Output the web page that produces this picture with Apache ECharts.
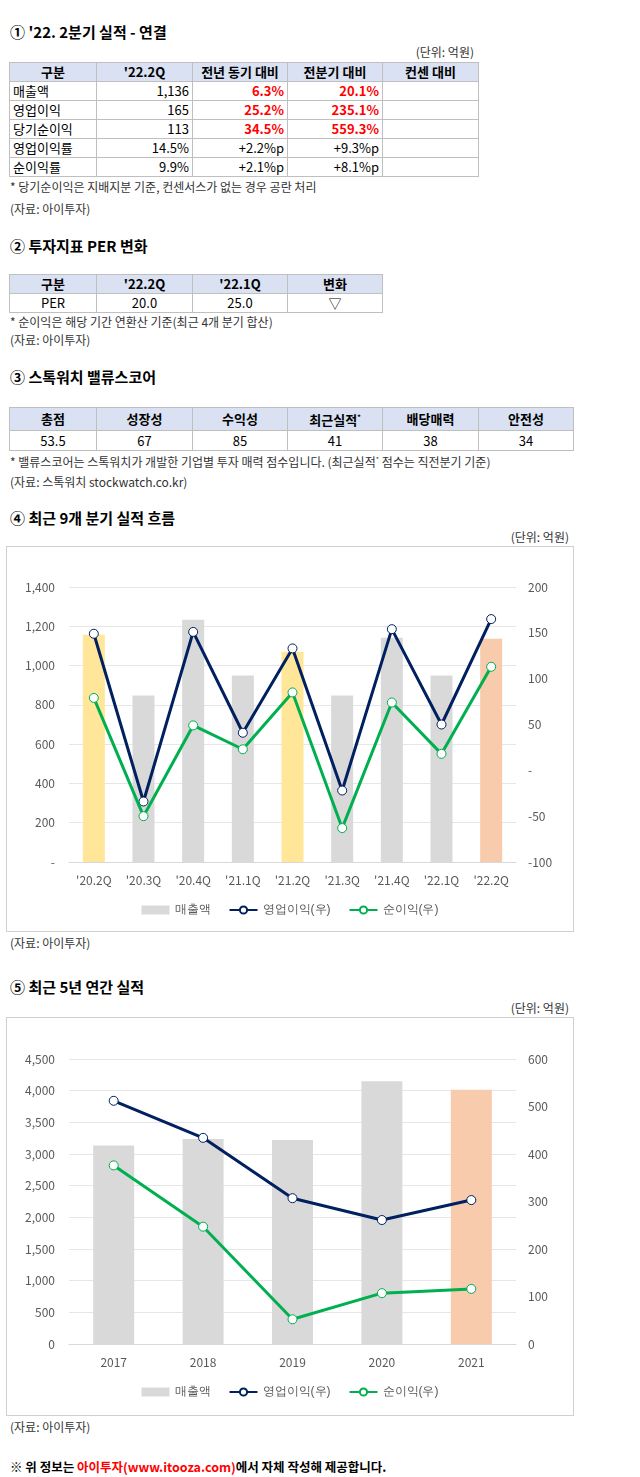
<!DOCTYPE html>
<html><head><meta charset="utf-8">
<script src="https://cdn.jsdelivr.net/npm/echarts@6/dist/echarts.min.js"></script>
<style>
body{margin:0;width:640px;height:1477px;position:relative;background:#fff;font-family:"Noto Sans CJK KR","Noto Sans",sans-serif;color:#000;}
.a{position:absolute;white-space:nowrap;}
.t{font-weight:bold;font-size:15px;left:10px;}
.s{font-size:12px;color:#333;}
table{position:absolute;border-collapse:collapse;font-size:13px;left:9px;table-layout:fixed;}
td,th{border:1px solid #bfbfbf;padding:0 3px;height:18px;line-height:18px;overflow:hidden;white-space:nowrap;}
th{background:#d9e1f2;font-weight:bold;text-align:center;}
.r{text-align:right}.c{text-align:center}.red{color:#f00;font-weight:bold;text-align:right}
.box{position:absolute;left:6px;width:568px;border:1px solid #d0d0d0;box-sizing:border-box;}
</style></head><body>
<div class="a t" style="top:21px">① '22. 2분기 실적 - 연결</div>
<div class="a s" style="top:43px;right:166px">(단위: 억원)</div>
<table id="t1" style="top:62px;width:467px"></table>
<div class="a s" style="top:178px;left:10px">* 당기순이익은 지배지분 기준, 컨센서스가 없는 경우 공란 처리</div>
<div class="a s" style="top:200px;left:10px">(자료: 아이투자)</div>

<div class="a t" style="top:235px">② 투자지표 PER 변화</div>
<table id="t2" style="top:274px;width:373px"></table>
<div class="a s" style="top:313px;left:10px">* 순이익은 해당 기간 연환산 기준(최근 4개 분기 합산)</div>
<div class="a s" style="top:331px;left:10px">(자료: 아이투자)</div>

<div class="a t" style="top:366px">③ 스톡워치 밸류스코어</div>
<table id="t3" style="top:407px;width:563px"></table>
<div class="a s" style="top:453px;left:10px">* 밸류스코어는 스톡워치가 개발한 기업별 투자 매력 점수입니다. (최근실적<sup style="font-size:7px">*</sup> 점수는 직전분기 기준)</div>
<div class="a s" style="top:473px;left:10px">(자료: 스톡워치 stockwatch.co.kr)</div>

<div class="a t" style="top:507px">④ 최근 9개 분기 실적 흐름</div>
<div class="a s" style="top:528px;right:71px">(단위: 억원)</div>
<div class="box" style="top:546px;height:386px"><div id="c1" style="width:566px;height:384px"></div></div>
<div class="a s" style="top:934px;left:10px">(자료: 아이투자)</div>

<div class="a t" style="top:976px">⑤ 최근 5년 연간 실적</div>
<div class="a s" style="top:999px;right:71px">(단위: 억원)</div>
<div class="box" style="top:1017px;height:399px"><div id="c2" style="width:566px;height:397px"></div></div>
<div class="a s" style="top:1418px;left:10px">(자료: 아이투자)</div>
<div class="a" style="top:1457px;left:10px;font-size:12.5px;font-weight:bold">※ 위 정보는 <span style="color:#f00">아이투자(www.itooza.com)</span>에서 자체 작성해 제공합니다.</div>

<script>
// Table data
const t1Head=['구분',"'22.2Q",'전년 동기 대비','전분기 대비','컨센 대비'];
const t1Rows=[['매출액','1,136','6.3%','20.1%',''],['영업이익','165','25.2%','235.1%',''],['당기순이익','113','34.5%','559.3%',''],['영업이익률','14.5%','+2.2%p','+9.3%p',''],['순이익률','9.9%','+2.1%p','+8.1%p','']];
const t2Head=['구분',"'22.2Q","'22.1Q",'변화'];
const t2Row=['PER','20.0','25.0','▽'];
const t3Head=['총점','성장성','수익성','최근실적<sup style="font-size:7px">*</sup>','배당매력','안전성'];
const t3Row=['53.5','67','85','41','38','34'];

// Chart 1 data
const qCats=["'20.2Q","'20.3Q","'20.4Q","'21.1Q","'21.2Q","'21.3Q","'21.4Q","'22.1Q","'22.2Q"];
const qSales=[1157,848,1233,950,1071,848,1142,950,1136];
const qOp=[149,-34,151,41,133,-22,154,50,165];
const qNet=[79,-50,49,23,85,-63,74,18,113];
const qHighlight=['y',null,null,null,'y',null,null,null,'p'];
// Chart 2 data
const yCats=['2017','2018','2019','2020','2021'];
const ySales=[3133,3238,3223,4148,4016];
const yOp=[512,434,307,261,303];
const yNet=[376,247,52,107,116];
const yHighlight=[null,null,null,null,'p'];

const w=[87,96,95,95,96,95];
function row(cells,tag,cls){return '<tr>'+cells.map((c,i)=>`<${tag} class="${cls?cls(i):''}" style="width:${w[i]-7}px">${c}</${tag}>`).join('')+'</tr>';}
document.getElementById('t1').innerHTML=row(t1Head,'th')+t1Rows.map((r,ri)=>row(r,'td',i=>i==0?'':(i==1?'r':(ri<3?'red':'r')))).join('');
document.getElementById('t2').innerHTML=row(t2Head,'th')+row(t2Row,'td',()=> 'c');
document.getElementById('t3').innerHTML=row(t3Head,'th').replace(/<tr>/,'<tr style="height:23px">')+row(t3Row,'td',()=> 'c').replace(/<tr>/,'<tr style="height:20px">');

const colors={y:'#ffe699',p:'#f8cbad'};
const lab={color:'#595959',fontSize:12,fontFamily:'"Noto Sans CJK KR",sans-serif'};
function mk(id,cats,sales,op,net,hl,lmin,lmax,lint,rmin,rmax,rint,dash,bw,grid,legBottom){
  const c=echarts.init(document.getElementById(id));
  const sym={symbol:'circle',symbolSize:9};
  c.setOption({animation:false,
    grid:grid,
    legend:{bottom:legBottom,itemWidth:28,itemHeight:9,itemGap:18,textStyle:{color:'#595959',fontSize:12},
      data:[{name:'매출액',icon:'rect',itemStyle:{color:'#d9d9d9'}},{name:'영업이익(우)'},{name:'순이익(우)'}]},
    xAxis:{type:'category',data:cats,axisLine:{show:true,lineStyle:{color:'#d9d9d9'}},axisTick:{show:false},axisLabel:Object.assign({margin:12,interval:0},lab)},
    yAxis:[{type:'value',min:lmin,max:lmax,interval:lint,axisLine:{show:false},axisTick:{show:false},splitLine:{lineStyle:{color:'#e6e6e6'}},
      axisLabel:Object.assign({formatter:v=>v===0&&dash?'-':v.toLocaleString('en-US'),margin:14},lab)},
      {type:'value',min:rmin,max:rmax,interval:rint,axisLine:{show:false},axisTick:{show:false},splitLine:{show:false},
      axisLabel:Object.assign({formatter:v=>v===0&&dash?'-':String(v),margin:12},lab)}],
    series:[
      {name:'매출액',type:'bar',barWidth:bw,data:sales.map((v,i)=>({value:v,itemStyle:{color:hl[i]?colors[hl[i]]:'#d9d9d9'}})),itemStyle:{color:'#d9d9d9'}},
      Object.assign({name:'영업이익(우)',type:'line',yAxisIndex:1,data:op,lineStyle:{color:'#002060',width:3},z:3},sym,{itemStyle:{color:'#fff',borderColor:'#002060',borderWidth:1}}),
      Object.assign({name:'순이익(우)',type:'line',yAxisIndex:1,data:net,lineStyle:{color:'#00b050',width:3},z:4},sym,{itemStyle:{color:'#fff',borderColor:'#00b050',borderWidth:1}})
    ]});
}
mk('c1',qCats,qSales,qOp,qNet,qHighlight,0,1400,200,-100,200,50,true,22,{left:62,right:57,top:40,bottom:69},10);
mk('c2',yCats,ySales,yOp,yNet,yHighlight,0,4500,500,0,600,100,false,41,{left:62,right:57,top:41,bottom:71},12);
</script></body></html>
